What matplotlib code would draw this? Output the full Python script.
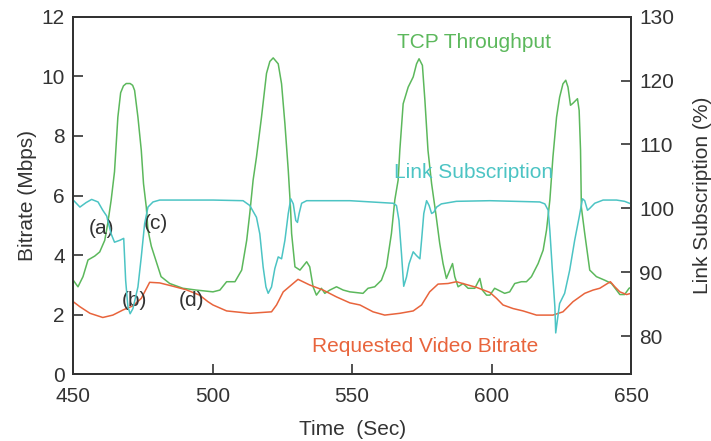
import matplotlib.pyplot as plt

plt.rcParams['font.family'] = ['Liberation Sans', 'DejaVu Sans']

# TCP throughput (Mbps, left axis)
tcp_t = [450.0, 451.7, 453.5, 455.3, 457.7, 459.5, 461.3, 462.4, 463.6, 464.8,
         466.0, 467.0, 468.0, 469.0, 470.4, 471.3, 472.0, 473.2, 474.4, 475.2,
         476.2, 476.8, 478.0, 479.2, 481.5, 484.6, 489.3, 494.1, 500.1, 502.6,
         505.0, 508.0, 510.4, 512.2, 513.3, 514.5, 515.7, 517.5, 519.3, 520.5,
         521.7, 523.5, 524.7, 525.9, 527.1, 527.9, 528.3, 529.5, 531.3, 533.7,
         534.8, 536.0, 537.2, 539.0, 540.2, 542.0, 544.4, 546.8, 549.2, 553.9,
         555.7, 558.1, 560.5, 562.3, 564.1, 565.3, 566.5, 567.1, 568.3, 570.1,
         571.9, 573.1, 574.0, 575.2, 576.1, 577.2, 578.5, 580.0, 581.4, 582.6,
         583.8, 586.0, 586.8, 588.0, 589.8, 591.6, 594.0, 595.8, 596.7, 598.2,
         599.4, 601.1, 604.7, 606.5, 608.3, 610.7, 612.5, 614.3, 616.7, 618.5,
         619.7, 620.9, 622.0, 623.3, 624.4, 625.6, 626.6, 627.4, 628.3, 629.2,
         630.8, 631.4, 631.9, 632.2, 633.4, 635.2, 637.6, 640.6, 643.0, 644.8,
         646.0, 647.7, 649.3, 650.0]
tcp_mbps = [3.16, 2.94, 3.28, 3.84, 3.97, 4.11, 4.50, 5.08, 5.85, 6.80,
            8.63, 9.45, 9.68, 9.76, 9.76, 9.70, 9.53, 8.63, 7.52, 6.40,
            5.61, 4.84, 4.30, 3.95, 3.28, 3.05, 2.89, 2.83, 2.77, 2.83,
            3.11, 3.11, 3.50, 4.50, 5.40, 6.52, 7.29, 8.63, 10.10, 10.50,
            10.62, 10.42, 9.75, 8.41, 6.85, 5.61, 4.73, 3.61, 3.50, 3.78,
            3.61, 2.94, 2.66, 2.89, 2.72, 2.83, 2.94, 2.83, 2.77, 2.72,
            2.89, 2.94, 3.16, 3.61, 4.73, 5.85, 6.52, 7.52, 9.08, 9.64,
            9.98, 10.42, 10.59, 10.37, 9.19, 7.52, 6.40, 5.40, 4.40, 3.72,
            3.22, 3.72, 3.28, 2.94, 3.05, 2.89, 2.89, 3.22, 2.83, 2.66,
            2.66, 2.89, 2.72, 2.77, 3.05, 3.11, 3.11, 3.28, 3.72, 4.17,
            4.84, 5.85, 7.29, 8.63, 9.30, 9.75, 9.87, 9.64, 9.03, 9.10,
            9.25, 8.86, 7.52, 5.61, 4.73, 3.50, 3.28, 3.16, 3.05, 2.83,
            2.68, 2.68, 2.89, 2.92]

# Link subscription (%, right axis)
link_t = [450.0, 452.4, 454.6, 456.6, 458.9, 460.6, 462.0, 463.6, 464.8, 466.7,
          468.1, 468.8, 469.6, 470.4, 471.4, 473.2, 474.4, 475.6, 476.8, 478.6,
          481.0, 500.1, 510.9, 513.3, 515.7, 516.9, 518.1, 519.1, 519.9, 521.1,
          522.3, 523.5, 524.7, 525.9, 527.1, 528.0, 528.9, 529.8, 530.4, 531.0,
          531.9, 533.7, 549.2, 564.7, 565.9, 566.8, 567.7, 568.5, 569.5, 570.4,
          571.9, 573.1, 574.3, 574.9, 575.7, 576.7, 577.6, 578.5, 579.3, 580.3,
          582.0, 587.4, 599.4, 617.3, 619.1, 620.3, 620.9, 621.8, 622.7, 623.0,
          623.6, 624.4, 626.2, 628.0, 629.8, 631.4, 632.6, 633.4, 634.4, 635.2,
          637.0, 640.0, 644.8, 647.7, 650.0]
link_pct = [101.3, 100.2, 100.9, 101.4, 101.0, 99.7, 98.8, 96.0, 94.7, 95.0,
            95.3, 88.7, 84.6, 83.5, 84.3, 87.7, 92.4, 97.6, 100.2, 101.0,
            101.3, 101.3, 101.2, 100.45, 98.6, 96.0, 90.8, 87.7, 86.7, 87.7,
            90.6, 92.4, 92.1, 95.0, 99.2, 101.5, 100.7, 98.1, 97.8, 99.2,
            100.8, 101.2, 101.2, 100.8, 100.45, 98.1, 92.9, 87.8, 89.25, 91.3,
            93.2, 92.6, 92.1, 95.0, 99.2, 101.2, 100.45, 99.2, 99.4, 100.2,
            100.7, 101.1, 101.2, 101.0, 100.7, 99.7, 96.5, 90.3, 84.6, 80.5,
            82.5, 85.1, 86.7, 90.3, 95.0, 98.6, 101.5, 101.2, 99.7, 100.0,
            100.8, 101.3, 101.3, 101.1, 100.7]

# Requested video bitrate (Mbps, left axis)
req_t = [450.0, 452.4, 456.0, 460.6, 464.2, 467.8, 471.4, 474.4, 477.4, 481.0,
         485.7, 490.5, 495.3, 498.3, 500.1, 505.0, 513.3, 521.1, 522.9, 525.3,
         530.6, 534.8, 539.6, 544.4, 549.2, 552.8, 557.5, 561.7, 567.1, 571.9,
         574.9, 577.8, 580.8, 584.4, 587.4, 590.4, 594.6, 599.4, 601.8, 604.1,
         607.7, 611.3, 616.1, 622.0, 625.6, 629.2, 633.4, 636.4, 638.8, 641.2,
         642.6, 644.2, 646.0, 648.4, 650.0]
req_mbps = [2.44, 2.27, 2.05, 1.91, 1.99, 2.16, 2.30, 2.55, 3.09, 3.07,
            2.96, 2.84, 2.66, 2.44, 2.33, 2.13, 2.05, 2.10, 2.33, 2.77,
            3.19, 3.00, 2.83, 2.60, 2.40, 2.33, 2.10, 1.99, 2.05, 2.13,
            2.33, 2.77, 3.03, 3.05, 3.11, 3.03, 2.92, 2.75, 2.55, 2.33,
            2.21, 2.13, 1.99, 1.99, 2.10, 2.44, 2.72, 2.83, 2.89, 3.03,
            3.11, 2.94, 2.77, 2.68, 2.72]

green = '#5cb85c'
cyan = '#4cc4c4'
red = '#e8643c'
dark = '#333333'

fig = plt.figure(figsize=(7.11, 4.41), dpi=100)
ax = fig.add_axes([0.103, 0.151, 0.7845, 0.811])
ax2 = ax.twinx()

ax.plot(tcp_t, tcp_mbps, color=green, lw=1.1)
ax.plot(req_t, req_mbps, color=red, lw=1.1)
ax2.plot(link_t, link_pct, color=cyan, lw=1.1)

ax.set_xlim(450, 650)
ax.set_ylim(0, 12)
ax2.set_ylim(74, 130)
ax.set_xticks([450, 500, 550, 600, 650])
ax.set_yticks([0, 2, 4, 6, 8, 10, 12])
ax2.set_yticks([80, 90, 100, 110, 120, 130])

ax.tick_params(axis='x', direction='in', length=7, width=1.2, color=dark,
               labelsize=15, labelcolor=dark, pad=9)
ax.tick_params(axis='y', direction='in', length=7, width=1.2, color=dark,
               labelsize=15, labelcolor=dark, pad=6)
ax2.tick_params(axis='y', direction='in', length=7, width=1.2, color=dark,
                labelsize=15, labelcolor=dark, pad=6)

for a in (ax, ax2):
    for s in a.spines.values():
        s.set_color(dark)
        s.set_linewidth(1.4)

ax.set_xlabel('Time  (Sec)', fontsize=15, color=dark, labelpad=10)
ax.set_ylabel('Bitrate (Mbps)', fontsize=15, color=dark, labelpad=3)
ax2.set_ylabel('Link Subscription (%)', fontsize=15, color=dark, labelpad=13)

ax.text(593.6, 11.12, 'TCP Throughput', color=green, fontsize=15,
        ha='center', va='center')
ax.text(593.4, 6.79, 'Link Subscription', color=cyan, fontsize=15,
        ha='center', va='center')
ax.text(576.1, 0.93, 'Requested Video Bitrate', color=red, fontsize=15,
        ha='center', va='center')

ax.text(460.0, 4.88, '(a)', color=dark, fontsize=15, ha='center', va='center')
ax.text(471.9, 2.49, '(b)', color=dark, fontsize=15, ha='center', va='center')
ax.text(479.7, 5.07, '(c)', color=dark, fontsize=15, ha='center', va='center')
ax.text(492.4, 2.49, '(d)', color=dark, fontsize=15, ha='center', va='center')

fig.savefig('out.png', dpi=100)
